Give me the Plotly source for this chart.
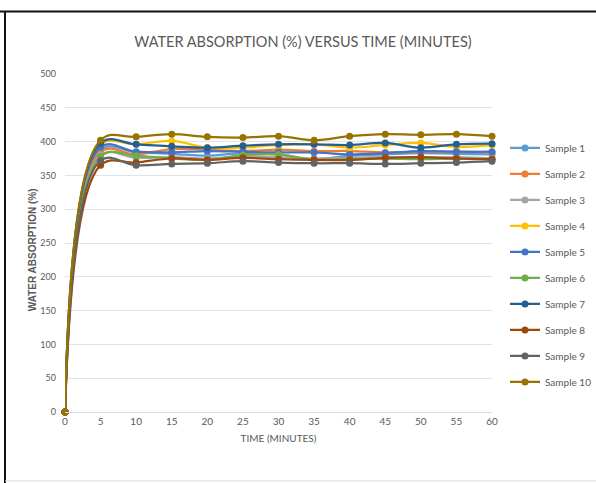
import plotly.graph_objects as go

time_min = [0, 5, 10, 15, 20, 25, 30, 35, 40, 45, 50, 55, 60]
tick_labels = ["0", "5", "10", "15", "20", "25", "30", "35", "40", "45", "50", "55", "60"]
sample_names = ["Sample 1", "Sample 2", "Sample 3", "Sample 4", "Sample 5",
                "Sample 6", "Sample 7", "Sample 8", "Sample 9", "Sample 10"]
sample_1 = [0, 388, 384, 382, 379, 383, 381, 374, 379, 381, 383, 382, 381]
sample_2 = [0, 385, 381, 389, 388, 386, 388, 386, 386, 384, 385, 385, 384]
sample_3 = [0, 380, 376, 377, 375, 378, 377, 375, 376, 377, 376, 377, 375]
sample_4 = [0, 395, 396, 401, 391, 391, 395, 396, 391, 395, 398, 392, 395]
sample_5 = [0, 392, 385, 384, 386, 385, 384, 384, 381, 383, 386, 385, 385]
sample_6 = [0, 378, 379, 375, 373, 380, 381, 373, 374, 375, 374, 375, 374]
sample_7 = [0, 398, 396, 393, 391, 394, 396, 396, 395, 398, 391, 396, 397]
sample_8 = [0, 365, 369, 375, 373, 376, 374, 373, 373, 376, 377, 375, 374]
sample_9 = [0, 372, 365, 367, 368, 371, 369, 368, 368, 367, 368, 369, 371]
sample_10 = [0, 402, 407, 411, 407, 406, 408, 402, 408, 411, 410, 411, 408]
series = [sample_1, sample_2, sample_3, sample_4, sample_5,
          sample_6, sample_7, sample_8, sample_9, sample_10]
colors = ["#5B9BD5", "#ED7D31", "#A5A5A5", "#FFC000", "#4472C4",
          "#70AD47", "#255E91", "#9E480E", "#636363", "#997300"]

W, H = 596, 483
L, R, T, B = 65, 492, 73.5, 412


def px(x):
    return (x - L) / (R - L)


def py(y):
    return (B - y) / (B - T)


fig = go.Figure()
for name, vals, c in zip(sample_names, series, colors):
    fig.add_trace(go.Scatter(
        x=time_min, y=vals, name=name, mode="lines+markers",
        line=dict(color=c, width=2.25, shape="spline", smoothing=1.1),
        marker=dict(color=c, size=7),
        legendgroup=name, cliponaxis=False,
    ))

font_main = "Lato, Open Sans, sans-serif"
fig.update_layout(
    width=W, height=H,
    margin=dict(l=L, r=W - R, t=T, b=H - B, pad=0, autoexpand=False),
    paper_bgcolor="white", plot_bgcolor="white",
    font=dict(family=font_main, color="#595959", size=9),
    title=dict(text="WATER ABSORPTION (%) VERSUS TIME (MINUTES)",
               xref="container", x=303 / W, xanchor="center",
               yref="container", y=1 - 42 / H, yanchor="middle",
               font=dict(size=14.5, color="#595959", family=font_main)),
    showlegend=True,
    legend=dict(x=px(505), xanchor="left", y=py(133), yanchor="top",
                font=dict(size=10, color="#595959", family=font_main),
                tracegroupgap=7, bgcolor="rgba(0,0,0,0)", itemwidth=30),
    xaxis=dict(range=[0, 60], tickmode="array", tickvals=time_min, ticktext=tick_labels,
               showgrid=False, zeroline=False, showline=True, linecolor="#D9D9D9",
               ticks="", tickfont=dict(size=10, color="#595959"),
               title=dict(text="TIME (MINUTES)", standoff=8,
                          font=dict(size=10, color="#595959"))),
    yaxis=dict(range=[0, 500], dtick=50, showgrid=True, gridcolor="#E3E3E3",
               zeroline=False, showline=False, ticks="", ticklabelstandoff=8,
               tickfont=dict(size=9, color="#595959")),
    annotations=[dict(text="<b>WATER ABSORPTION (%)</b>", textangle=-90,
                      x=px(32), y=py(250), xref="paper", yref="paper",
                      showarrow=False, xanchor="center", yanchor="middle",
                      font=dict(size=10, color="#595959",
                                family="Liberation Sans, Arial, sans-serif"))],
    shapes=[
        dict(type="line", xref="paper", yref="paper", x0=px(0), x1=px(596),
             y0=py(11), y1=py(11), line=dict(color="#111111", width=2)),
        dict(type="line", xref="paper", yref="paper", x0=px(5), x1=px(5),
             y0=py(11), y1=py(483), line=dict(color="#111111", width=2)),
        dict(type="line", xref="paper", yref="paper", x0=px(5), x1=px(596),
             y0=py(481), y1=py(481), line=dict(color="#E0E0E0", width=1)),
    ],
)

fig.write_html("out.html")
